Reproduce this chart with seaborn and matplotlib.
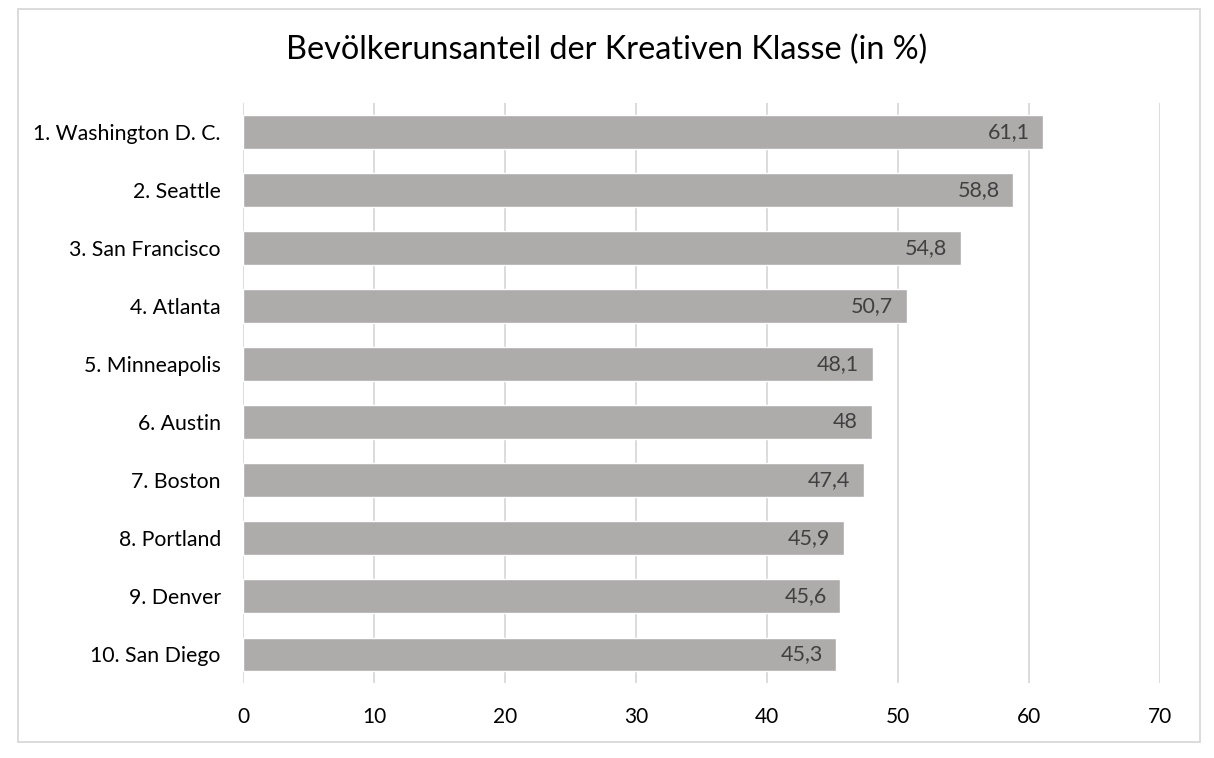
import matplotlib
matplotlib.use('Agg')
import matplotlib.pyplot as plt
import seaborn as sns
import pandas as pd
from matplotlib.patches import Rectangle

# ── Data ────────────────────────────────────────────────────────────────────
cities = ['1. Washington D. C.', '2. Seattle', '3. San Francisco', '4. Atlanta',
          '5. Minneapolis', '6. Austin', '7. Boston', '8. Portland',
          '9. Denver', '10. San Diego']
shares = [61.1, 58.8, 54.8, 50.7, 48.1, 48.0, 47.4, 45.9, 45.6, 45.3]
x_ticks = [0, 10, 20, 30, 40, 50, 60, 70]

TITLE = 'Bevölkerunsanteil der Kreativen Klasse (in %)'
BAR_COLOR = '#AEABAB'
GRID_COLOR = '#D9D9D9'
LABEL_COLOR = '#404040'

sns.set_theme(style='white')
plt.rcParams['font.family'] = ['Lato', 'DejaVu Sans']

df = pd.DataFrame({'city': cities, 'share': shares})

fig = plt.figure(figsize=(12.14, 7.58), dpi=100)
ax = fig.add_axes([0.2002, 0.0989, 0.7553, 0.7652])

sns.barplot(data=df, x='share', y='city', orient='h', color=BAR_COLOR,
            saturation=1, width=0.57, ax=ax)

# value labels inside the bar ends
for bar, val in zip(ax.patches, shares):
    txt = f'{val:.1f}'.replace('.', ',')
    if txt.endswith(',0'):
        txt = txt[:-2]
    ax.text(bar.get_width() - 1.05, bar.get_y() + bar.get_height() / 2, txt,
            ha='right', va='center', fontsize=15.5, color=LABEL_COLOR)

ax.set_xlim(0, 70)
ax.set_xticks(x_ticks)
ax.set_xticklabels([str(t) for t in x_ticks], fontsize=15, color='black')
ax.tick_params(axis='y', labelsize=15.3, labelcolor='black', length=0, pad=16)
ax.tick_params(axis='x', length=0, pad=17)
ax.set_xlabel('')
ax.set_ylabel('')
ax.xaxis.grid(True, color=GRID_COLOR, linewidth=1.3)
ax.set_axisbelow(True)
for s in ax.spines.values():
    s.set_visible(False)

fig.text(0.5, 0.934, TITLE, ha='center', va='center', fontsize=23.3, color='black')

# chart border
fig.patches.append(Rectangle((18 / 1214, 1 - 742 / 758), 1182 / 1214, 733 / 758,
                             transform=fig.transFigure, fill=False,
                             edgecolor=GRID_COLOR, linewidth=1.3))

fig.savefig('out.png', dpi=100)
